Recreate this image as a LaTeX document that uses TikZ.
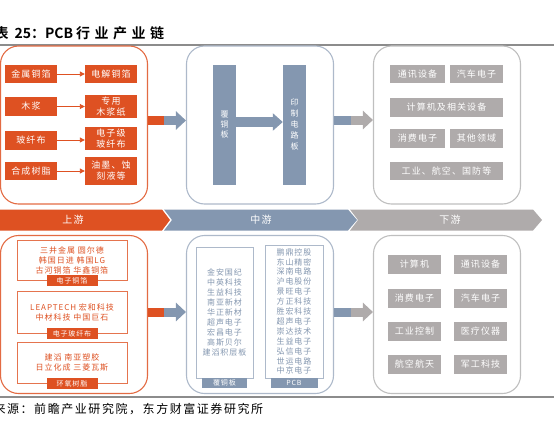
\documentclass[tikz,border=0pt]{standalone}
\usepackage{fontspec}
\setmainfont{Noto Sans CJK SC}[BoldFont={Noto Sans CJK SC Bold}]
\newfontfamily\spaced{Noto Sans CJK SC}[LetterSpace=12]
\usepackage{xcolor}
\usetikzlibrary{arrows.meta,positioning,calc}
\definecolor{upc}{HTML}{DE5122}
\definecolor{midc}{HTML}{8497B0}
\definecolor{lowc}{HTML}{AFABAB}
\definecolor{midline}{HTML}{ADB9CA}
\definecolor{lowline}{HTML}{BFBFBF}
\definecolor{rulec}{HTML}{8C8C8C}

\begin{document}
\begin{tikzpicture}[x=1pt,y=-1pt,
  panel/.style={draw=#1,line width=1.1pt,rounded corners=18pt,
    minimum width=147pt,minimum height=158pt,inner sep=0pt},
  tag/.style={fill=#1,text=white,inner sep=0pt,align=center,
    font=\spaced\fontsize{9}{11}\selectfont},
  frame/.style={draw=#1,line width=0.8pt,fill=white,inner sep=0pt,align=center,
    font=\spaced\fontsize{8}{10}\selectfont},
  tab/.style={fill=#1,text=white,inner sep=0pt,minimum height=10.5pt,
    font=\spaced\fontsize{7}{8}\selectfont},
  link/.style={upc,line width=0.9pt,-{Triangle[length=5pt,width=5pt]}},
  fat/.style={line width=9pt},
  band/.style={text=white,font=\spaced\fontsize{10}{12}\selectfont}]
  \useasboundingbox (0,0) rectangle (558,439);
  % title and rules
  \node[anchor=base west,font=\bfseries\fontsize{14}{17}\selectfont]
    (title) at (-9,38) {表\hspace{6pt}25：PCB\hspace{3pt}{\addfontfeatures{LetterSpace=32}行业产业链}};
  \draw[rulec,line width=2.5pt] (0,45) -- (554,45);
  \draw[rulec,line width=2.5pt] (0,397) -- (554,397);
  \node[anchor=base west,font=\fontsize{12}{14}\selectfont\addfontfeatures{LetterSpace=13}]
    (source) at (-10,413) {来源：前瞻产业研究院，东方财富证券研究所};

  % upper row: panels
  \node[panel=upc!85] (upL) at (74,125) {};
  \node[panel=midline] (upM) at (260,125) {};
  \node[panel=lowline] (upR) at (447,125) {};

  % upstream materials
  \node[tag=upc,minimum width=52pt,minimum height=18pt] (a1) at (31,74) {金属铜箔};
  \node[tag=upc,minimum width=52pt,minimum height=19pt] (a2) at (31,106.5) {木浆};
  \node[tag=upc,minimum width=52pt,minimum height=19pt] (a3) at (31,140) {玻纤布};
  \node[tag=upc,minimum width=52pt,minimum height=18pt] (a4) at (31,171) {合成树脂};
  \node[tag=upc,minimum width=52pt,minimum height=18pt] (b1) at (111,74) {电解铜箔};
  \node[tag=upc,minimum width=52pt,minimum height=23pt] (b2) at (111,106.5) {专用\\木浆纸};
  \node[tag=upc,minimum width=52pt,minimum height=23pt] (b3) at (111,138.5) {电子级\\玻纤布};
  \node[tag=upc,minimum width=52pt,minimum height=28pt] (b4) at (111,171) {油墨、蚀\\刻液等};
  \foreach \i in {1,...,4}
    \draw[link] (a\i.east) -- (a\i.east -| b\i.west);

  % midstream bars
  \node[tag=midc,minimum width=23pt,minimum height=120pt,
    font=\fontsize{8}{10}\selectfont] (ccl) at (224.5,125) {覆\\铜\\板};
  \node[tag=midc,minimum width=23pt,minimum height=120pt,
    font=\fontsize{8}{11}\selectfont] (pcb) at (294.5,125) {印\\制\\电\\路\\板};
  \draw[midc,line width=10pt,-{Triangle[length=10pt,width=17pt]}]
    ([yshift=3pt]ccl.east) -- ([yshift=3pt]pcb.west);

  % downstream fields
  \node[tag=lowc,minimum width=55pt,minimum height=18pt] (c1) at (417.5,74) {通讯设备};
  \node[tag=lowc,minimum width=53pt,minimum height=18pt] (c2) at (476.5,74) {汽车电子};
  \node[tag=lowc,minimum width=113pt,minimum height=19pt] (c3) at (446.5,107.5) {计算机及相关设备};
  \node[tag=lowc,minimum width=55pt,minimum height=19pt] (c4) at (417.5,138.5) {消费电子};
  \node[tag=lowc,minimum width=53pt,minimum height=19pt] (c5) at (476.5,138.5) {其他领域};
  \node[tag=lowc,minimum width=113pt,minimum height=18pt] (c6) at (446.5,171) {工业、航空、国防等};

  % stage arrows, upper row
  \draw[upc,fat] ([yshift=4.5pt]upL.east) -- ++(16,0) coordinate (j1);
  \draw[midc,fat,-{Triangle[length=10pt,width=18pt]}] (j1) -- ([yshift=4.5pt]upM.west);
  \draw[midc,fat] ([yshift=5pt]upM.east) -- ++(17,0) coordinate (j2);
  \draw[lowc,fat,-{Triangle[length=10pt,width=18pt]}] (j2) -- ([yshift=5pt]upR.west);

  % band
  \fill[upc] (0,209.5) -- (162,209.5) -- (170,220) -- (162,230.5) -- (0,230.5) -- cycle;
  \fill[midc] (164,209.5) -- (348,209.5) -- (357,220) -- (348,230.5) -- (164,230.5) -- (172,220) -- cycle;
  \fill[lowc] (350,209.5) -- (533,209.5) -- (542,220) -- (533,230.5) -- (350,230.5) -- (358,220) -- cycle;
  \node[band] (upT) at (73,220) {上游};
  \node[band] (midT) at (261,220) {中游};
  \node[band] (lowT) at (450,220) {下游};

  % lower row: panels
  \node[panel=upc!85] (dnL) at (74,314.5) {};
  \node[panel=midline] (dnM) at (260,314.5) {};
  \node[panel=lowline] (dnR) at (447,314.5) {};

  % upstream makers
  \node[frame=upc!80,text=upc,minimum width=110pt,minimum height=40pt] (f1) at (72,260)
    {三井金属 圆尔德\\韩国日进 韩国LG\\古河铜箔 华鑫铜箔};
  \node[frame=upc!80,text=upc,minimum width=110pt,minimum height=42pt] (f2) at (72,312)
    {LEAPTECH 宏和科技\\中材科技 中国巨石};
  \node[frame=upc!80,text=upc,minimum width=110pt,minimum height=41pt] (f3) at (72,362.5)
    {建滔 南亚塑胶\\日立化成 三菱瓦斯};
  \node[tab=upc,minimum width=51pt] (t1) at (f1.south) {电子铜箔};
  \node[tab=upc,minimum width=51pt] (t2) at (f2.south) {电子玻纤布};
  \node[tab=upc,minimum width=51pt] (t3) at (f3.south) {环氧树脂};

  % midstream makers
  \node[frame=midline,text=midc,minimum width=57pt,minimum height=131pt] (g1) at (224.5,312.5)
    {金安国纪\\中英科技\\生益科技\\南亚新材\\华正新材\\超声电子\\宏昌电子\\高斯贝尔\\建滔积层板};
  \node[frame=midline,text=midc,minimum width=58pt,minimum height=133pt,
    font=\spaced\fontsize{8}{9.9}\selectfont] (g2) at (294,311.5)
    {鹏鼎控股\\东山精密\\深南电路\\沪电股份\\景旺电子\\方正科技\\胜宏科技\\超声电子\\崇达技术\\生益电子\\弘信电子\\世运电路\\中京电子};
  \node[tab=midc,minimum width=45pt,anchor=north] (t4) at ([yshift=1pt]g1.south) {覆铜板};
  \node[tab=midc,minimum width=47pt,anchor=north] (t5) at ([yshift=1pt]g2.south) {PCB};

  % downstream uses
  \node[tag=lowc,minimum width=53pt,minimum height=19pt] (d1) at (414.5,264.5) {计算机};
  \node[tag=lowc,minimum width=53pt,minimum height=19pt] (d2) at (480.5,264.5) {通讯设备};
  \node[tag=lowc,minimum width=53pt,minimum height=19pt] (d3) at (414.5,298.5) {消费电子};
  \node[tag=lowc,minimum width=53pt,minimum height=19pt] (d4) at (480.5,298.5) {汽车电子};
  \node[tag=lowc,minimum width=53pt,minimum height=19pt] (d5) at (414.5,331.5) {工业控制};
  \node[tag=lowc,minimum width=53pt,minimum height=19pt] (d6) at (480.5,331.5) {医疗仪器};
  \node[tag=lowc,minimum width=53pt,minimum height=19pt] (d7) at (414.5,364.5) {航空航天};
  \node[tag=lowc,minimum width=53pt,minimum height=19pt] (d8) at (480.5,364.5) {军工科技};

  % stage arrows, lower row
  \draw[upc,fat] ([yshift=2.5pt]dnL.east) -- ++(16,0) coordinate (j3);
  \draw[midc,fat,-{Triangle[length=10pt,width=18pt]}] (j3) -- ([yshift=2.5pt]dnM.west);
  \draw[midc,fat] ([yshift=2.5pt]dnM.east) -- ++(17,0) coordinate (j4);
  \draw[lowc,fat,-{Triangle[length=10pt,width=18pt]}] (j4) -- ([yshift=2.5pt]dnR.west);
\end{tikzpicture}
\end{document}
